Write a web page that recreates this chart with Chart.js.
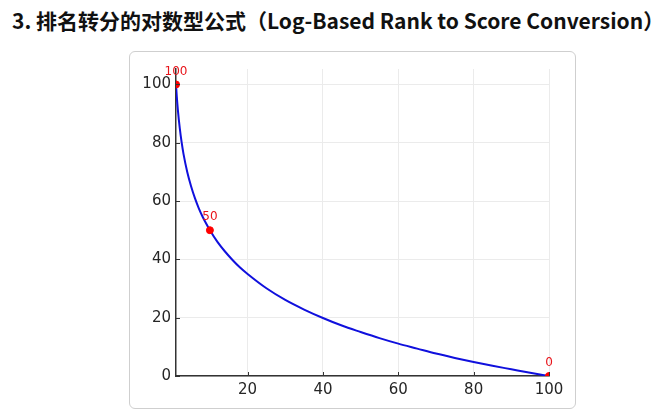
<!DOCTYPE html>
<html>
<head>
<meta charset="utf-8">
<script src="https://cdn.jsdelivr.net/npm/chart.js@4"></script>
<style>
  html, body { margin: 0; padding: 0; background: #fff; }
  body { width: 660px; height: 417px; position: relative; overflow: hidden; }
  #title {
    position: absolute; left: 12px; top: 5px;
    font-family: "Noto Sans CJK SC", "Noto Sans", sans-serif;
    font-weight: bold; font-size: 21px; color: #111; white-space: nowrap;
  }
  #box {
    position: absolute; left: 129px; top: 51px; width: 445px; height: 356px;
    border: 1px solid #cfcfcf; border-radius: 6px; background: #fff;
  }
  #chart { position: absolute; left: 0; top: 0; }
</style>
</head>
<body>
<div id="title">3. 排名转分的对数型公式（Log-Based Rank to Score Conversion）</div>
<div id="box"><canvas id="chart" width="445" height="356"></canvas></div>
<script>
// curve: rank -> score
const ranks  = [1, 1.2, 1.5, 2, 2.5, 3, 4, 5, 6, 7, 8, 9, 10, 12, 14, 16, 18, 20, 25, 30, 35, 40, 45, 50, 55, 60, 65, 70, 75, 80, 85, 90, 95, 100];
const scores = [100, 96, 91.2, 85, 80.1, 76.1, 69.9, 65.1, 61.1, 57.7, 54.8, 52.3, 50, 46, 42.7, 39.8, 37.2, 35, 30.1, 26.1, 22.8, 19.9, 17.3, 15.1, 13, 11.1, 9.4, 7.7, 6.2, 4.8, 3.5, 2.3, 1.1, 0];

// highlighted points
const markRanks  = [1, 10, 100];
const markScores = [100, 50, 0];
const markLabels = ["100", "50", "0"];

const xTicks = [20, 40, 60, 80, 100];
const yTicks = [0, 20, 40, 60, 80, 100];

const tickFont = { family: "DejaVu Sans", size: 15 };

const markLabelPlugin = {
  id: "markLabels",
  afterDatasetsDraw(chart) {
    const ctx = chart.ctx;
    const xs = chart.scales.x, ys = chart.scales.y;
    ctx.save();
    // small inward tick marks on both axes
    ctx.strokeStyle = "#333";
    ctx.lineWidth = 1;
    xTicks.forEach(v => {
      const px = Math.round(xs.getPixelForValue(v)) + 0.5;
      ctx.beginPath(); ctx.moveTo(px, ys.bottom); ctx.lineTo(px, ys.bottom - 4); ctx.stroke();
    });
    yTicks.forEach(v => {
      const py = Math.round(ys.getPixelForValue(v)) + 0.5;
      ctx.beginPath(); ctx.moveTo(xs.left, py); ctx.lineTo(xs.left + 4, py); ctx.stroke();
    });
    ctx.fillStyle = "#e8141a";
    ctx.font = "12px 'DejaVu Sans'";
    ctx.textAlign = "center";
    ctx.textBaseline = "bottom";
    markRanks.forEach((r, i) => {
      ctx.fillText(markLabels[i], xs.getPixelForValue(r), ys.getPixelForValue(markScores[i]) - 7);
    });
    ctx.restore();
  }
};

new Chart(document.getElementById("chart"), {
  type: "scatter",
  data: {
    datasets: [{
      data: ranks.map((r, i) => ({ x: r, y: scores[i] })),
      showLine: true,
      borderColor: "#1010dd",
      borderWidth: 2,
      pointRadius: 0,
      cubicInterpolationMode: "monotone",
      order: 2
    }, {
      data: markRanks.map((r, i) => ({ x: r, y: markScores[i] })),
      showLine: false,
      pointRadius: 3.5,
      pointBackgroundColor: "#ff0000",
      pointBorderColor: "#ff0000",
      order: 1
    }]
  },
  options: {
    responsive: false,
    animation: false,
    layout: { padding: { top: 17, right: 26, left: 0, bottom: 0 } },
    plugins: { legend: { display: false }, tooltip: { enabled: false } },
    scales: {
      x: {
        type: "linear",
        min: 1, max: 100,
        afterBuildTicks: s => { s.ticks = xTicks.map(v => ({ value: v })); },
        afterFit: s => { s.height = 32; },
        grid: { color: "#ebebeb", drawTicks: false },
        border: { color: "#333", width: 1.5 },
        ticks: { color: "#262626", font: tickFont, padding: 5 }
      },
      y: {
        min: 0, max: 105.3,
        afterBuildTicks: s => { s.ticks = yTicks.map(v => ({ value: v })); },
        afterFit: s => { s.width = 46; },
        grid: { color: "#ebebeb", drawTicks: false },
        border: { color: "#333", width: 1.5 },
        ticks: { color: "#262626", font: tickFont, padding: 5 }
      }
    }
  },
  plugins: [markLabelPlugin]
});
</script>
</body>
</html>
